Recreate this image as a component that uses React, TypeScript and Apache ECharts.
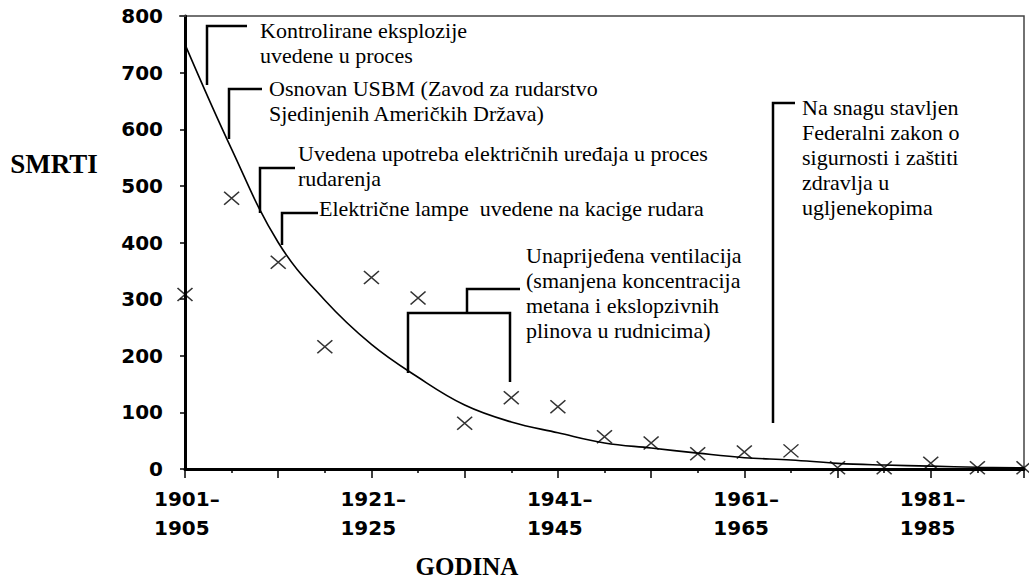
import React, { useEffect, useRef } from "react";
import * as echarts from "echarts";

// ---- data ----
const periods = [
  "1901–1905", "1906–1910", "1911–1915", "1916–1920", "1921–1925",
  "1926–1930", "1931–1935", "1936–1940", "1941–1945", "1946–1950",
  "1951–1955", "1956–1960", "1961–1965", "1966–1970", "1971–1975",
  "1976–1980", "1981–1985", "1986–1990", "1991–1995",
];
const deaths = [308, 478, 365, 216, 338, 302, 81, 126, 110, 57, 46, 27, 30, 32, 2, 2, 10, 2, 2];
const trend = [750, 565, 400, 298, 220, 162, 113, 83, 64, 46, 37, 28, 20, 16, 10, 7, 5, 3, 2];
const yName = "SMRTI";
const xName = "GODINA";
const annotationTexts = [
  "Kontrolirane eksplozije\nuvedene u proces",
  "Osnovan USBM (Zavod za rudarstvo\nSjedinjenih Američkih Država)",
  "Uvedena upotreba električnih uređaja u proces\nrudarenja",
  "Električne lampe  uvedene na kacige rudara",
  "Unaprijeđena ventilacija\n(smanjena koncentracija\nmetana i ekslopzivnih\nplinova u rudnicima)",
  "Na snagu stavljen\nFederalni zakon o\nsigurnosti i zaštiti\nzdravlja u\nugljenekopima",
];

// ---- layout of annotations (pixels) ----
const annotationPos = [
  [260, 17.5], [269, 75.5], [298, 140.5], [319, 195.5], [526, 242.5], [802, 94.5],
];
const brackets = [
  [[207, 85], [207, 26], [247, 26]],
  [[229, 139], [229, 89], [262, 89]],
  [[260, 213], [260, 168], [295, 168]],
  [[282, 245], [282, 213], [318, 213]],
  [[408, 373], [408, 313], [510, 313], [510, 382]],
  [[467, 313], [467, 289], [520, 289]],
  [[773, 423], [773, 103], [795, 103]],
];

const serif = "Liberation Serif";
const sans = "DejaVu Sans";

export default function App() {
  const ref = useRef<HTMLDivElement>(null);
  useEffect(() => {
    document.body.style.margin = "0";
    const chart = echarts.init(ref.current!, null, { renderer: "svg" });
    const graphic: any[] = [];
    annotationTexts.forEach((t, i) => {
      graphic.push({
        type: "text",
        x: annotationPos[i][0],
        y: annotationPos[i][1],
        z: 10,
        style: {
          text: t,
          fontSize: 22,
          fontFamily: serif,
          fill: "#000",
          lineHeight: 25,
          align: "left",
          verticalAlign: "top",
        },
      });
    });
    brackets.forEach((pts) => {
      graphic.push({
        type: "polyline",
        z: 10,
        shape: { points: pts },
        style: { stroke: "#000", lineWidth: 2.5, fill: "none" },
      });
    });
    graphic.push({
      type: "line",
      z: 1,
      shape: { x1: 179, y1: 16, x2: 186, y2: 16 },
      style: { stroke: "#444", lineWidth: 1.5 },
    });
    graphic.push({
      type: "text",
      x: 54,
      y: 164,
      style: {
        text: yName,
        fontSize: 27,
        fontWeight: "bold",
        fontFamily: serif,
        fill: "#000",
        align: "center",
        verticalAlign: "middle",
      },
    });
    graphic.push({
      type: "text",
      x: 467,
      y: 566,
      style: {
        text: xName,
        fontSize: 25,
        fontWeight: "bold",
        fontFamily: serif,
        fill: "#000",
        align: "center",
        verticalAlign: "middle",
      },
    });

    chart.setOption({
      animation: false,
      backgroundColor: "#fff",
      grid: {
        left: 185,
        right: 5,
        top: 16,
        bottom: 109,
        show: true,
        borderColor: "#444",
        borderWidth: 1.5,
        backgroundColor: "transparent",
      },
      xAxis: {
        type: "value",
        min: 0,
        max: 18,
        interval: 2,
        axisLine: { show: true, lineStyle: { color: "#000", width: 3 } },
        axisTick: { show: true, length: 9, lineStyle: { color: "#000", width: 1.5 } },
        minorTick: { show: true, splitNumber: 2, length: 4, lineStyle: { color: "#000", width: 1.5 } },
        splitLine: { show: false },
        minorSplitLine: { show: false },
        axisLabel: {
          margin: 15,
          formatter: (v: number) => {
            const i = Math.round(v);
            if (i % 4 !== 0 || !periods[i]) return "";
            const [a, b] = periods[i].split("–");
            return `{a|${a}–}\n{a|${b}}`;
          },
          rich: {
            a: {
              width: 62,
              align: "left",
              fontSize: 20,
              fontWeight: "bold",
              lineHeight: 29,
              fontFamily: sans,
              color: "#000",
            },
          },
        },
      },
      yAxis: {
        type: "value",
        min: 0,
        max: 800,
        interval: 100,
        axisLine: { show: true, lineStyle: { color: "#000", width: 3 } },
        axisTick: { show: true, length: 5, lineStyle: { color: "#000", width: 1.5 } },
        splitLine: { show: false },
        axisLabel: {
          margin: 22,
          fontSize: 20,
          fontWeight: "bold",
          fontFamily: sans,
          color: "#000",
        },
      },
      series: [
        {
          type: "line",
          data: trend.map((v, i) => [i, v]),
          smooth: 0.4,
          showSymbol: false,
          symbol: "none",
          clip: false,
          lineStyle: { color: "#000", width: 1.6 },
          z: 2,
        },
        {
          type: "scatter",
          data: deaths.map((v, i) => [i, v]),
          symbol: "path://M0,0L10,10M10,0L0,10",
          symbolSize: [15, 13],
          clip: false,
          itemStyle: { color: "transparent", borderColor: "#000", borderWidth: 1.5 },
          z: 3,
        },
      ],
      graphic,
    });
    return () => chart.dispose();
  }, []);
  return <div ref={ref} style={{ width: 1029, height: 578 }} />;
}
